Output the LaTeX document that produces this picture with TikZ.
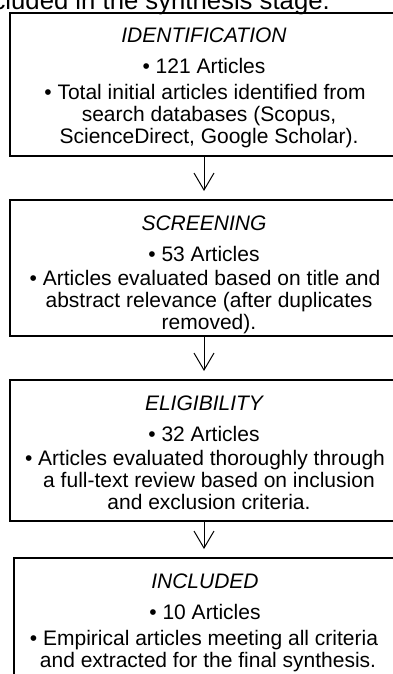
\documentclass[tikz,border=0pt]{standalone}
\usepackage{fontspec}
\setmainfont{Liberation Sans}
\usetikzlibrary{arrows.meta}

\tikzset{
	stagebox/.style={draw=black,line width=2pt,minimum width=388pt},
	flow/.style={-{Straight Barb[length=17pt,width=20pt]},line width=1pt},
	stagetitle/.style={anchor=base,inner sep=0pt,font=\fontsize{21}{22}\selectfont\itshape},
	stagetext/.style={anchor=base,inner sep=0pt,align=center},
}

\begin{document}
\begin{tikzpicture}[x=1pt,y=-1pt,font=\fontsize{21}{22}\selectfont]
		\useasboundingbox (0,0) rectangle (393,674);
		\clip (0,0) rectangle (393,674);
		\node[anchor=base east,inner sep=0pt,font=\fontsize{25.7}{28}\selectfont] (lead) at (330,9.5) {cluded in the synthesis stage.};%cut-off caption line
		% stage boxes
		\node[stagebox,minimum height=143pt] (ident) at (204,84.5) {};
		\node[stagebox,minimum height=136pt] (screen) at (204,268) {};
		\node[stagebox,minimum height=141pt] (elig) at (204,450.5) {};
		\node[stagebox,minimum width=382pt,minimum height=142pt] (incl) at (205,629) {};
		% identification
		\node[stagetitle] (identtitle) at (204,43) {IDENTIFICATION};
		\node[stagetext] (identcount) at (204,74) {• 121 Articles};
		\node[stagetext] (identtext) at (205,143) {• Total initial articles identified from\\
			\hspace*{8pt}search databases (Scopus,\\
			\hspace*{8pt}ScienceDirect, Google Scholar).};
		% screening
		\node[stagetitle] (screentitle) at (204,230) {SCREENING};
		\node[stagetext] (screencount) at (204,261) {• 53 Articles};
		\node[stagetext] (screentext) at (205,329) {• Articles evaluated based on title and\\
			\hspace*{8pt}abstract relevance (after duplicates\\
			\hspace*{8pt}removed).};
		% eligibility
		\node[stagetitle] (eligtitle) at (204,410) {ELIGIBILITY};
		\node[stagetext] (eligcount) at (204,441) {• 32 Articles};
		\node[stagetext] (eligtext) at (205,509) {• Articles evaluated thoroughly through\\
			\hspace*{8pt}a full-text review based on inclusion\\
			\hspace*{8pt}and exclusion criteria.};
		% included
		\node[stagetitle] (incltitle) at (205,588) {INCLUDED};
		\node[stagetext] (inclcount) at (205,619) {• 10 Articles};
		\node[stagetext] (incltext) at (204,667) {• Empirical articles meeting all criteria\\
			\hspace*{8pt}and extracted for the final synthesis.};
		% arrows
		\draw[flow] (ident.south) -- ([yshift=8pt]screen.north);
		\draw[flow] (screen.south) -- ([yshift=8pt]elig.north);
		\draw[flow] (elig.south) -- ([yshift=8pt,xshift=-1pt]incl.north);
	\end{tikzpicture}
\end{document}
